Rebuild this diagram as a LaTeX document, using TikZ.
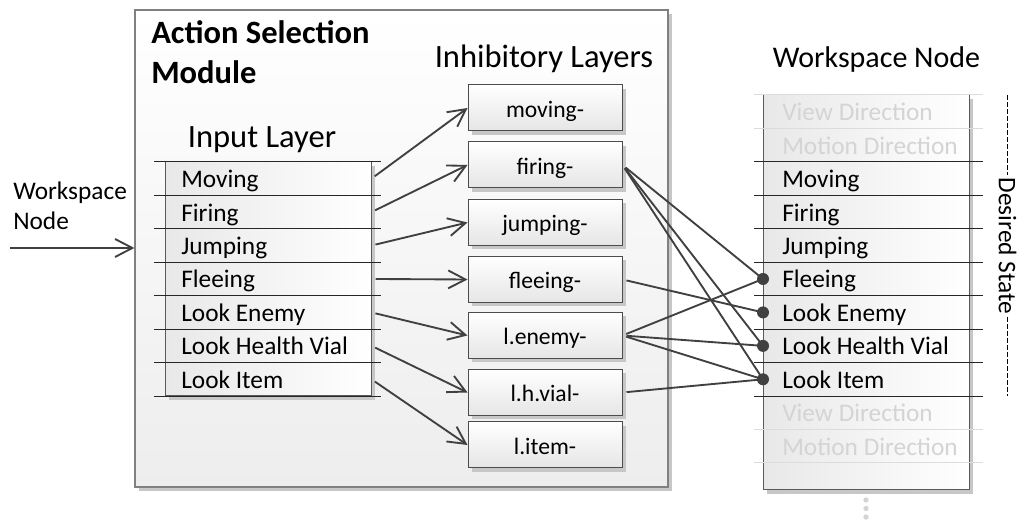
\documentclass[tikz,border=0pt]{standalone}
\usepackage{fontspec}
\setmainfont{Carlito}
\usetikzlibrary{arrows.meta,shadows}

\definecolor{wire}{HTML}{404040}
\definecolor{rulecol}{HTML}{262626}
\definecolor{faint}{HTML}{D4D4D4}
\definecolor{faintrule}{HTML}{DCDCDC}
\definecolor{frame}{HTML}{808080}

\newcommand{\rowfnt}{\fontsize{19}{22.8}\selectfont}
\newcommand{\headfnt}{\fontsize{24.4}{29}\selectfont}

\begin{document}
\begin{tikzpicture}[
  x=0.75pt, y=-0.75pt,
  boxshadow/.style={drop shadow={shadow xshift=3pt, shadow yshift=-3pt, fill=black!22, opacity=1}},
  modulebox/.style={draw=frame, line width=0.9pt, top color=white, bottom color=black!7, boxshadow},
  listbox/.style={draw=black!65, line width=0.75pt, left color=black!9, right color=white, boxshadow},
  inhbox/.style={draw=black!70, line width=0.75pt, top color=white, bottom color=black!10,
    minimum width=115.5pt, minimum height=34.5pt, inner sep=0pt,
    font=\fontsize{17.7}{21}\selectfont, text height=15pt, text depth=1pt, boxshadow},
  incell/.style={anchor=west, inner ysep=0pt, inner xsep=12pt, text width=130.5pt,
    text height=14pt, text depth=0.5pt, font=\rowfnt, align=flush left},
  wscell/.style={anchor=west, inner ysep=0pt, inner xsep=14.25pt, text width=140pt,
    text height=14pt, text depth=0.5pt, font=\rowfnt, align=flush left},
  titletext/.style={anchor=base west, inner sep=0pt, font=\headfnt\bfseries},
  heading/.style={anchor=base, inner sep=0pt, font=\headfnt},
  plain/.style={anchor=base west, inner sep=0pt, font=\rowfnt},
  rowrule/.style={draw=rulecol, line width=0.75pt},
  faintline/.style={draw=faintrule, line width=0.75pt},
  flow/.style={draw=wire, line width=1.4pt, -{Straight Barb[length=13pt, width=13.5pt, line width=1.4pt]}},
  link/.style={draw=wire, line width=1.4pt},
  dashline/.style={draw=black, line width=1pt, dash pattern=on 3.75pt off 1.5pt}
]
\useasboundingbox (0,0) rectangle (1021,523);

% ---- Action selection module frame
\node[modulebox, minimum width=399.75pt, minimum height=357.75pt, inner sep=0pt] (asm) at (401.5,248.5) {};
\node[titletext] (title1) at (151,44) {Action Selection};
\node[titletext] (title2) at (151,83.3) {Module};

% ---- headings
\node[heading] (inhead) at (262,148) {Input Layer};
\node[heading] (inhhead) at (544,68) {Inhibitory Layers};
\node[heading, font=\fontsize{22.5}{27}\selectfont] (wshead) at (876.5,68) {Workspace Node};

% ---- incoming workspace data
\node[plain] (wslbl1) at (13,200) {Workspace};
\node[plain] (wslbl2) at (13,230) {Node};
\coordinate (wsin) at (10,248);
\draw[flow] (wsin) -- (wsin -| asm.west);

% ---- input layer list
\node[listbox, minimum width=154.5pt, minimum height=175.5pt, inner sep=0pt] (inbox) at (268,279) {};
\foreach \t [count=\i] in {Moving,Firing,Jumping,Fleeing,Look Enemy,Look Health Vial,Look Item}
  \node[incell] (in\i) at (165,{95+(\i+1.5)*33.45}) {\t};
\foreach \k in {2,...,9}
  \draw[rowrule] (154,{95+\k*33.45}) -- (381,{95+\k*33.45});

% ---- inhibitory layers
\node[inhbox] (imov)  at (545,108)   {moving-};
\node[inhbox] (ifir)  at (545,165)   {firing-};
\node[inhbox] (ijum)  at (545,222.5) {jumping-};
\node[inhbox] (ifle)  at (545,279.5) {fleeing-};
\node[inhbox] (iene)  at (545,335.5) {l.enemy-};
\node[inhbox] (ihv)   at (545,392.5) {l.h.vial-};
\node[inhbox] (iitem) at (545,445)   {l.item-};

% ---- workspace node list
\node[listbox, minimum width=154.5pt, minimum height=296.25pt, inner sep=0pt] (wsbox) at (866,292.5) {};
\foreach \t/\c [count=\i] in {View Direction/faint, Motion Direction/faint, Moving/black,
    Firing/black, Jumping/black, Fleeing/black, Look Enemy/black, Look Health Vial/black,
    Look Item/black, View Direction/faint, Motion Direction/faint}
  \node[wscell, text=\c] (ws\i) at (763,{95+(\i-0.5)*33.45}) {\t};
\foreach \k in {0,1,10,11}
  \draw[faintline] (754,{95+\k*33.45}) -- (983,{95+\k*33.45});
\foreach \k in {2,...,9}
  \draw[rowrule] (754,{95+\k*33.45}) -- (983,{95+\k*33.45});
\foreach \yy in {500,508.5,517}
  \fill[faint] (866,\yy) circle (2pt);

% ---- input layer to inhibitory layers
\draw[flow, shorten <=3pt] (in1.east) -- (imov.west);
\draw[flow, shorten <=3pt] (in2.east) -- (ifir.west);
\draw[flow, shorten <=3pt] (in3.east) -- (ijum.west);
\draw[flow, shorten <=3pt] (in4.east) -- (ifle.west);
\draw[flow, shorten <=3pt] (in5.east) -- (iene.west);
\draw[flow, shorten <=3pt] (in6.east) -- (ihv.west);
\draw[flow, shorten <=3pt] (in7.east) -- (iitem.west);

% ---- inhibitory layers to desired state
\foreach \k in {6,8,9}
  \draw[link, shorten <=3pt] (ifir.east) -- (ws\k.west);
\draw[link, shorten <=3pt] (ifle.east) -- (ws7.west);
\foreach \k in {6,8,9}
  \draw[link, shorten <=3pt] (iene.east) -- (ws\k.west);
\draw[link, shorten <=3pt] (ihv.east) -- (ws9.west);
\foreach \k in {6,...,9}
  \fill[wire] (ws\k.west) circle (4.5pt);

% ---- desired state marker
\node[rotate=-90, inner sep=1.5pt, font=\rowfnt] (ds) at (1007.5,246) {Desired State};
\coordinate (dstop) at (1007.5,95);
\coordinate (dsbot) at (1007.5,396);
\draw[dashline] (dstop) -- (ds.west);
\draw[dashline] (ds.east) -- (dsbot);
\end{tikzpicture}
\end{document}
